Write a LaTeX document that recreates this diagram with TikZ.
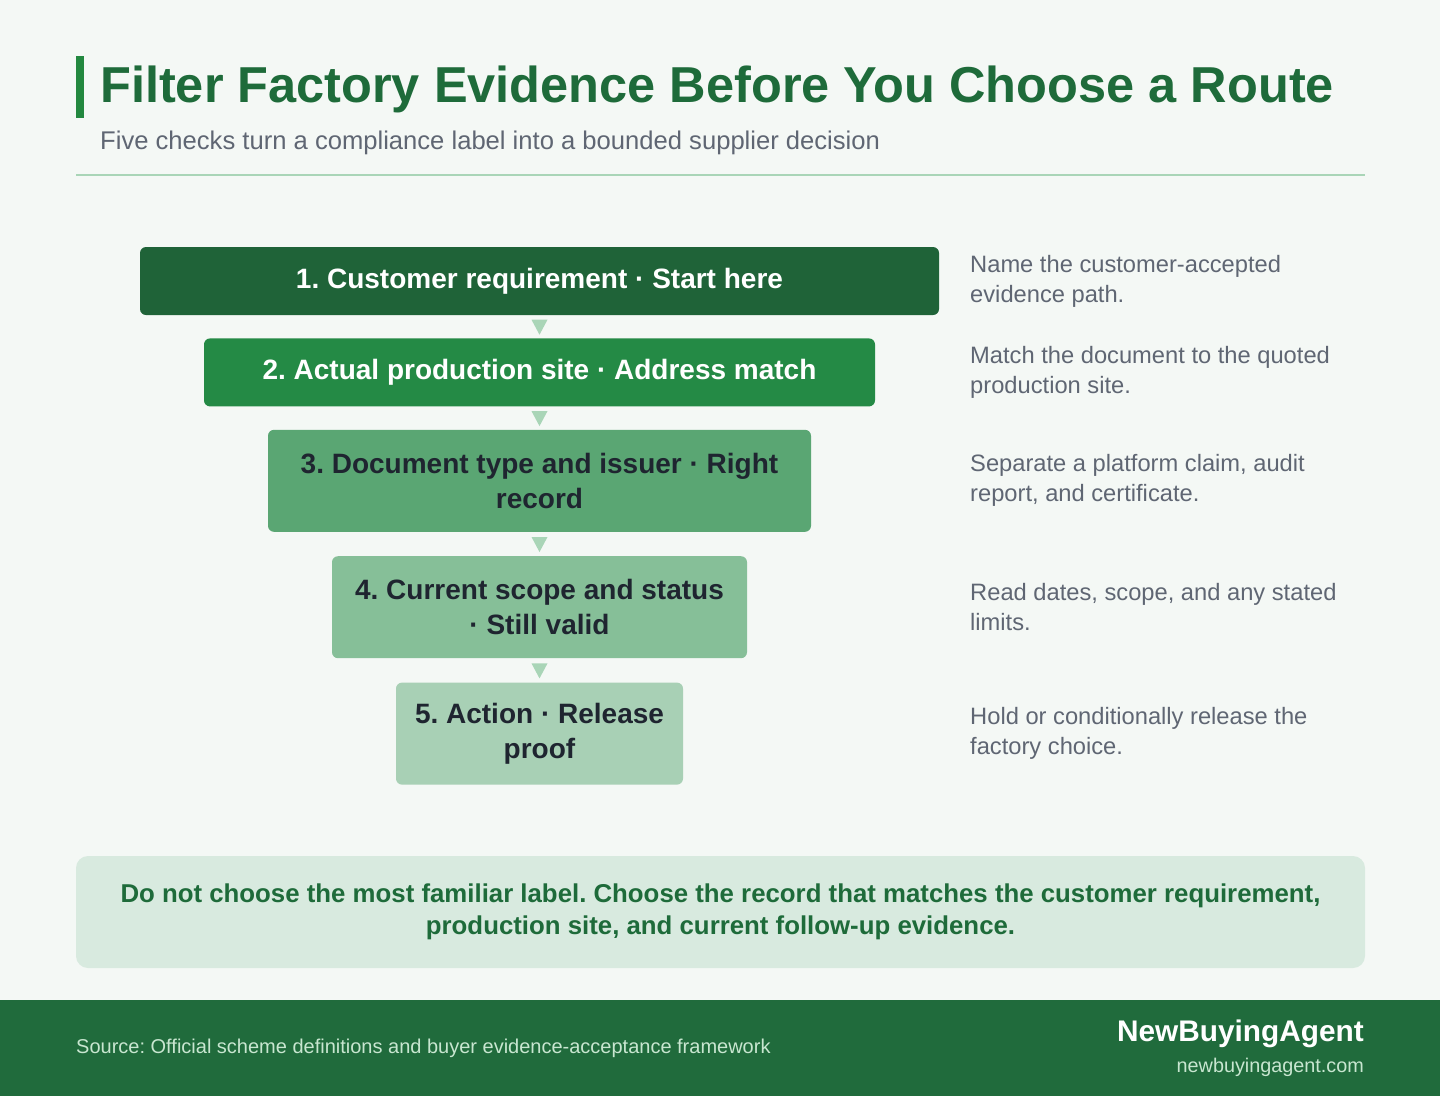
\documentclass[tikz,border=0pt]{standalone}
\usepackage{fontspec}
\setmainfont{Liberation Sans}
\usetikzlibrary{positioning, calc}
\frenchspacing
\definecolor{pagebg}{HTML}{F4F8F5}
\definecolor{accentgreen}{HTML}{22883F}
\definecolor{titlegreen}{HTML}{1E6B3A}
\definecolor{subgray}{HTML}{5F6673}
\definecolor{rulegreen}{HTML}{A9D5B7}
\definecolor{stepone}{HTML}{1F6338}
\definecolor{steptwo}{HTML}{248A45}
\definecolor{stepthree}{HTML}{5AA673}
\definecolor{stepfour}{HTML}{86BF98}
\definecolor{stepfive}{HTML}{A8D0B5}
\definecolor{inkdark}{HTML}{1F2530}
\definecolor{notefill}{HTML}{D8EADF}
\definecolor{footgreen}{HTML}{206B3C}
\definecolor{foottext}{HTML}{C8E6D0}

\begin{document}
\begin{tikzpicture}[x=1pt, y=-1pt,
    stepbox/.style={rounded corners=6pt, inner sep=0pt, align=center,
      font=\fontsize{28}{35}\selectfont\bfseries},
    desc/.style={anchor=west, align=left, inner sep=0pt, text=subgray,
      font=\fontsize{23.7}{30}\selectfont},
    arrowtri/.style={fill=rulegreen}]
  \useasboundingbox (0,0) rectangle (1440,1096);
  \fill[pagebg] (0,0) rectangle (1440,1096);

  % cabecera
  \fill[accentgreen] (76,56) rectangle (84,118);
  \node[anchor=base west, inner sep=0pt, text=titlegreen,
    font=\fontsize{50.5}{56}\selectfont\bfseries] (title) at (100,102)
    {Filter Factory Evidence Before You Choose a Route};
  \node[anchor=base west, inner sep=0pt, text=subgray,
    font=\fontsize{25.6}{30}\selectfont] (subtitle) at (100,149)
    {Five checks turn a compliance label into a bounded supplier decision};
  \draw[rulegreen, line width=1.5pt] (76,175) -- (1365,175);

  % pasos
  \node[stepbox, fill=stepone, text=white, minimum width=799pt, minimum height=68pt]
    (s1) at (539.5,281) {1. Customer requirement · Start here};
  \node[stepbox, fill=steptwo, text=white, minimum width=671pt, minimum height=68pt,
    below=23pt of s1] (s2) {2. Actual production site · Address match};
  \node[stepbox, fill=stepthree, text=inkdark, minimum width=543pt, minimum height=102pt,
    below=23pt of s2] (s3) {3. Document type and issuer · Right\\record};
  \node[stepbox, fill=stepfour, text=inkdark, minimum width=415pt, minimum height=102pt,
    below=24pt of s3] (s4) {4. Current scope and status\\· Still valid};
  \node[stepbox, fill=stepfive, text=inkdark, minimum width=287pt, minimum height=102pt,
    below=24pt of s4] (s5) {5. Action · Release\\proof};

  \foreach \a/\b in {s1/s2, s2/s3, s3/s4, s4/s5} {
    \path (\a.south) -- (\b.north) coordinate[midway] (m\a);
    \fill[arrowtri] ($(m\a)+(-8,-7)$) -- ($(m\a)+(8,-7)$) -- ($(m\a)+(0,8)$) -- cycle;
  }

  % notas a la derecha
  \coordinate (rx) at (970,0);
  \node[desc] (n1) at (s1 -| rx) {Name the customer-accepted\\evidence path.};
  \node[desc] (n2) at (s2 -| rx) {Match the document to the quoted\\production site.};
  \node[desc] (n3) at (s3 -| rx) {Separate a platform claim, audit\\report, and certificate.};
  \node[desc] (n4) at (s4 -| rx) {Read dates, scope, and any stated\\limits.};
  \node[desc] (n5) at (s5 -| rx) {Hold or conditionally release the\\factory choice.};

  % aviso
  \node[rounded corners=12pt, fill=notefill, text=titlegreen, align=center,
    minimum width=1289pt, minimum height=112pt, inner sep=0pt,
    font=\fontsize{25.8}{32}\selectfont\bfseries] (note) at (720.5,912)
    {Do not choose the most familiar label. Choose the record that matches the customer requirement,\\production site, and current follow-up evidence.};

  % pie
  \fill[footgreen] (0,1000) rectangle (1440,1096);
  \node[anchor=west, inner sep=0pt, text=foottext, font=\fontsize{20}{24}\selectfont]
    (source) at (76,1048) {Source: Official scheme definitions and buyer evidence-acceptance framework};
  \node[anchor=east, inner sep=0pt, text=white, font=\fontsize{29.8}{34}\selectfont\bfseries]
    (brand) at (1364,1034) {NewBuyingAgent};
  \node[anchor=east, inner sep=0pt, text=foottext, font=\fontsize{19.8}{23}\selectfont]
    (site) at (1364,1067) {newbuyingagent.com};
\end{tikzpicture}
\end{document}
